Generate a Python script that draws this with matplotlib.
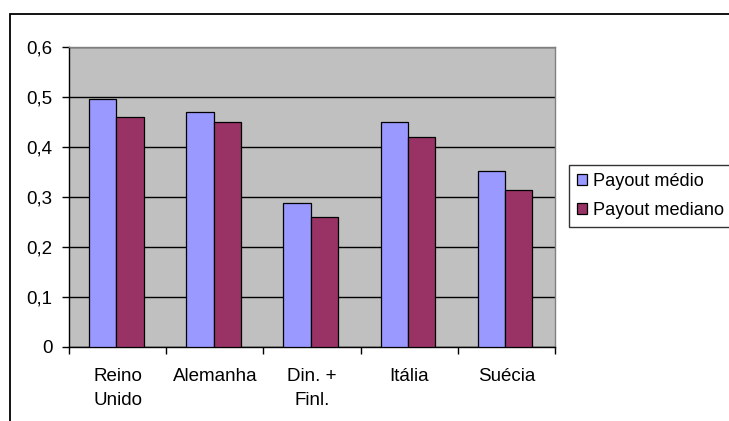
import numpy as np
import matplotlib.pyplot as plt
from matplotlib.patches import Rectangle
from matplotlib.ticker import FixedLocator, FuncFormatter

plt.rcParams['font.family'] = ['Liberation Sans', 'DejaVu Sans']

paises = ["Reino\nUnido", "Alemanha", "Din. +\nFinl.", "Itália", "Suécia"]
payout_medio = [0.496, 0.469, 0.288, 0.450, 0.352]
payout_mediano = [0.459, 0.449, 0.259, 0.419, 0.313]

fig = plt.figure(figsize=(7.29, 4.21), dpi=100)
# moldura do gráfico (corta à direita e em baixo)
fig.patches.append(Rectangle((10 / 729, -0.1), 1.2, 1 - 14 / 421 + 0.1,
                             transform=fig.transFigure, fill=False,
                             edgecolor='black', linewidth=1.3))

ax = fig.add_axes([69 / 729, 1 - 346.7 / 421, 486 / 729, 300 / 421])
ax.set_facecolor('#C0C0C0')

x = np.arange(len(paises))
w = 0.281
off = -0.013
ax.bar(x - w / 2 + off, payout_medio, w, color='#9999FF', edgecolor='black',
       linewidth=0.9, label='Payout médio', zorder=3)
ax.bar(x + w / 2 + off, payout_mediano, w, color='#993366', edgecolor='black',
       linewidth=0.9, label='Payout mediano', zorder=3)

ax.set_xlim(-0.5, len(paises) - 0.5)
ax.set_ylim(0, 0.6)
ax.set_yticks(np.arange(0, 0.61, 0.1))
ax.yaxis.set_major_formatter(FuncFormatter(lambda v, p: ('%g' % round(v, 1)).replace('.', ',')))
ax.yaxis.grid(True, color='black', linewidth=1.0, zorder=1)
ax.set_axisbelow(True)

ax.xaxis.set_major_locator(FixedLocator(np.arange(-0.5, len(paises), 1)))
ax.xaxis.set_minor_locator(FixedLocator(x))
ax.set_xticklabels([])
ax.set_xticklabels(paises, minor=True, linespacing=1.6)
ax.tick_params(axis='x', which='minor', length=0, pad=15, labelsize=13.5)
ax.tick_params(axis='x', which='major', direction='out', length=5, width=1)
ax.tick_params(axis='y', direction='out', length=5, width=1, labelsize=13.5, pad=7)

for s in ['top', 'right']:
    ax.spines[s].set_color('#808080')
    ax.spines[s].set_linewidth(1.0)
for s in ['left', 'bottom']:
    ax.spines[s].set_color('black')
    ax.spines[s].set_linewidth(1.0)

leg = ax.legend(loc='upper left', bbox_to_anchor=(569 / 729, 1 - 165 / 421),
                bbox_transform=fig.transFigure, frameon=True, fancybox=False,
                edgecolor='black', fontsize=13.1, handlelength=0.55,
                handleheight=0.55, handletextpad=0.3, borderpad=0.45,
                labelspacing=0.65, borderaxespad=0)
leg.get_frame().set_linewidth(1.0)

fig.savefig('out.png', dpi=100)
